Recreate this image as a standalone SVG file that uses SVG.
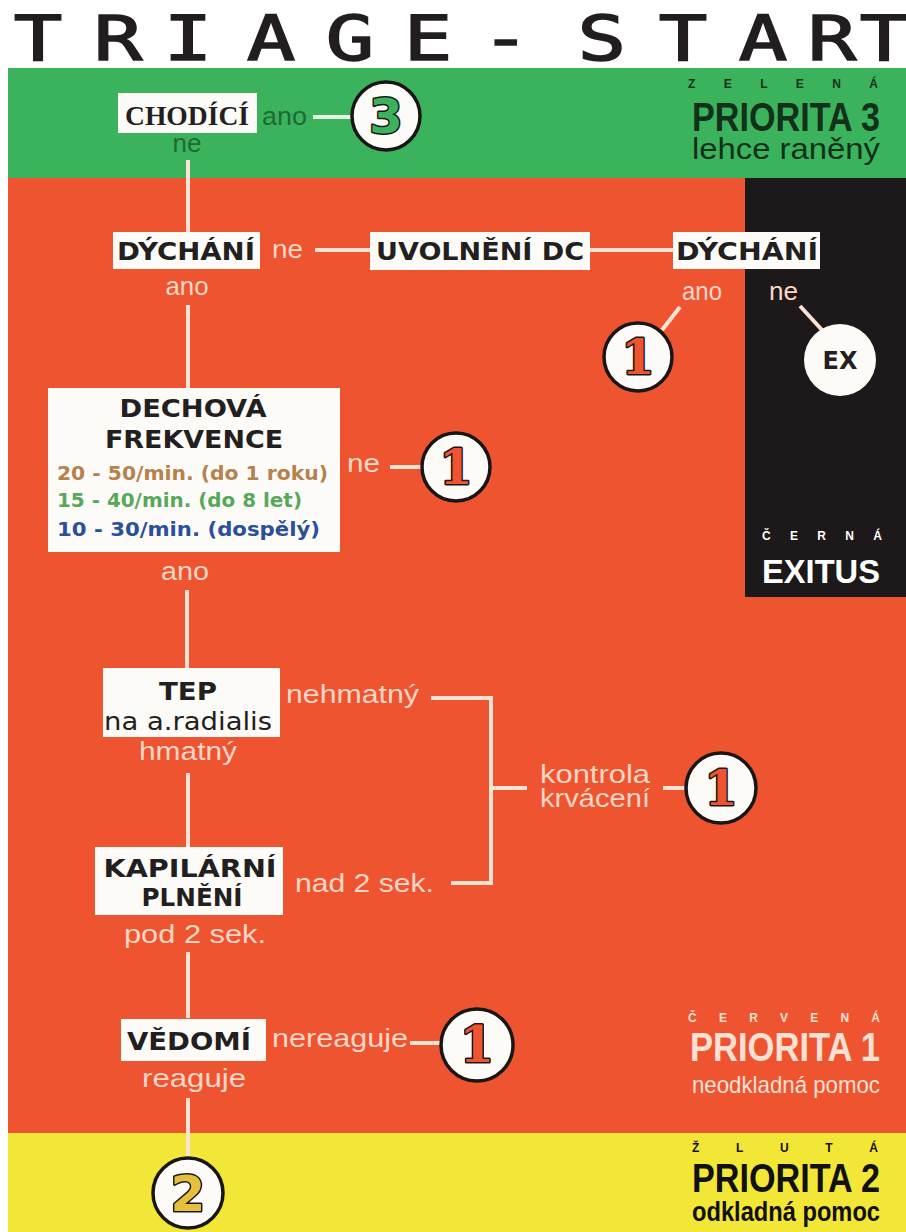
<svg xmlns="http://www.w3.org/2000/svg" width="906" height="1232" viewBox="0 0 906 1232">
<defs>
<style>
.box{fill:#fdfbf8}
.nt{font-family:"DejaVu Sans","Liberation Sans",sans-serif;font-weight:bold;fill:#231f20;text-anchor:middle}
.ln{stroke:#fde2d4;stroke-width:4;fill:none}
.lbl{font-family:"Liberation Sans Narrow","Liberation Sans",Arial,sans-serif;font-size:26px;fill:#fcd6c6}
.lblg{font-family:"Liberation Sans Narrow","Liberation Sans",Arial,sans-serif;font-size:26px;fill:#1d6a35}
.circ{fill:#fdfbf8;stroke:#1a1616;stroke-width:3.5}
.num{font-weight:bold;text-anchor:middle;stroke:#1a1616;stroke-width:3;paint-order:stroke;stroke-linejoin:round}
.leg{font-family:"Liberation Sans",Arial,sans-serif;font-weight:bold}
.sp{font-family:"Liberation Sans",Arial,sans-serif;font-weight:900;font-size:12px}
</style>
</defs>
<rect x="0" y="0" width="906" height="1232" fill="#ffffff"/>
<!-- title -->
<text transform="scale(1.3,1)" x="29.2 90.8 144.6 208.5 269.2 329.2 389 463 525.4 586.9 640 680" y="60" font-family="DejaVu Sans Mono, Liberation Mono, monospace" font-size="62" fill="#221e1f" stroke="#221e1f" stroke-width="1.6" text-anchor="middle">TRIAGE-START</text>
<!-- bands -->
<rect x="8" y="68" width="898" height="110" fill="#3bb35d"/>
<rect x="8" y="178" width="898" height="955" fill="#ef5431"/>
<rect x="745" y="178" width="161" height="419" fill="#1d1819"/>
<rect x="8" y="1133" width="898" height="99" fill="#f2e636"/>
<!-- legend -->
<g id="legend">
<text class="sp" x="688" y="88" textLength="190" lengthAdjust="spacing" fill="#13301b">ZELENÁ</text>
<text class="leg" x="692" y="131" font-size="40" textLength="188" lengthAdjust="spacingAndGlyphs" fill="#13301b">PRIORITA 3</text>
<text x="692" y="159" font-family="Liberation Sans, Arial, sans-serif" font-size="29" textLength="188" lengthAdjust="spacingAndGlyphs" fill="#13301b">lehce raněný</text>
<text class="sp" x="762" y="540" textLength="120" lengthAdjust="spacing" fill="#ffffff">ČERNÁ</text>
<text class="leg" x="762" y="583" font-size="34" textLength="118" lengthAdjust="spacingAndGlyphs" fill="#ffffff">EXITUS</text>
<text class="sp" x="688" y="1022" textLength="192" lengthAdjust="spacing" fill="#fbe0d4">ČERVENÁ</text>
<text class="leg" x="690" y="1061" font-size="40" textLength="190" lengthAdjust="spacingAndGlyphs" fill="#fbe0d4">PRIORITA 1</text>
<text x="692" y="1093" font-family="Liberation Sans, Arial, sans-serif" font-size="24" textLength="188" lengthAdjust="spacingAndGlyphs" fill="#fbe0d4">neodkladná pomoc</text>
<text class="sp" x="692" y="1152" textLength="186" lengthAdjust="spacing" fill="#111111">ŽLUTÁ</text>
<text class="leg" x="692" y="1192" font-size="40" textLength="188" lengthAdjust="spacingAndGlyphs" fill="#111111">PRIORITA 2</text>
<text class="leg" x="692" y="1221" font-size="28" textLength="188" lengthAdjust="spacingAndGlyphs" fill="#111111">odkladná pomoc</text>
</g>
<!-- connectors -->
<g id="connectors">
<line x1="313" y1="117" x2="352" y2="117" stroke="#e4f4e4" stroke-width="4"/>
<line class="ln" x1="188" y1="160" x2="188" y2="232"/>
<line class="ln" x1="315" y1="250" x2="370" y2="250"/>
<line class="ln" x1="590" y1="250" x2="673" y2="250"/>
<line class="ln" x1="680" y1="307" x2="662" y2="330"/>
<line class="ln" x1="800" y1="306" x2="822" y2="330"/>
<line class="ln" x1="188" y1="305" x2="188" y2="388"/>
<line class="ln" x1="390" y1="467" x2="422" y2="467"/>
<line class="ln" x1="187" y1="590" x2="187" y2="668"/>
<polyline class="ln" points="431,698 491,698 491,883 451,883"/>
<line class="ln" x1="491" y1="788" x2="527" y2="788"/>
<line class="ln" x1="663" y1="788" x2="686" y2="788"/>
<line class="ln" x1="188" y1="773" x2="188" y2="847"/>
<line class="ln" x1="188" y1="952" x2="188" y2="1018"/>
<line class="ln" x1="410" y1="1043" x2="441" y2="1043"/>
<line class="ln" x1="188" y1="1098" x2="188" y2="1158"/>
<text class="lblg" x="262" y="125" textLength="45" lengthAdjust="spacingAndGlyphs">ano</text>
<text class="lblg" x="187" y="152" text-anchor="middle">ne</text>
<text class="lbl" x="272" y="258" textLength="31" lengthAdjust="spacingAndGlyphs">ne</text>
<text class="lbl" x="187" y="295" text-anchor="middle" textLength="43" lengthAdjust="spacingAndGlyphs">ano</text>
<text class="lbl" x="682" y="300" textLength="40" lengthAdjust="spacingAndGlyphs">ano</text>
<text class="lbl" x="769" y="300" textLength="29" lengthAdjust="spacingAndGlyphs">ne</text>
<text class="lbl" x="347" y="472" textLength="33" lengthAdjust="spacingAndGlyphs">ne</text>
<text class="lbl" x="185" y="580" text-anchor="middle" textLength="48" lengthAdjust="spacingAndGlyphs">ano</text>
<text class="lbl" x="286" y="703" textLength="133" lengthAdjust="spacingAndGlyphs">nehmatný</text>
<text class="lbl" x="188" y="760" text-anchor="middle" textLength="98" lengthAdjust="spacingAndGlyphs">hmatný</text>
<text class="lbl" x="540" y="783" textLength="110" lengthAdjust="spacingAndGlyphs">kontrola</text>
<text class="lbl" x="540" y="807" textLength="110" lengthAdjust="spacingAndGlyphs">krvácení</text>
<text class="lbl" x="295" y="892" textLength="139" lengthAdjust="spacingAndGlyphs">nad 2 sek.</text>
<text class="lbl" x="195" y="943" text-anchor="middle" textLength="142" lengthAdjust="spacingAndGlyphs">pod 2 sek.</text>
<text class="lbl" x="272" y="1047" textLength="136" lengthAdjust="spacingAndGlyphs">nereaguje</text>
<text class="lbl" x="194" y="1087" text-anchor="middle" textLength="104" lengthAdjust="spacingAndGlyphs">reaguje</text>
</g>
<!-- nodes -->
<g id="chodici">
<rect class="box" x="118" y="93" width="139" height="40"/>
<text x="187" y="125" font-family="Liberation Serif, DejaVu Serif, serif" font-weight="bold" font-size="27" fill="#231f20" text-anchor="middle" textLength="124" lengthAdjust="spacingAndGlyphs">CHODÍCÍ</text>
</g>
<g id="p3a">
<circle class="circ" cx="386" cy="116" r="34"/>
<text class="num" x="386" y="133" font-family="DejaVu Sans, sans-serif" font-size="48" fill="#3bb35d">3</text>
</g>
<g id="dychani1">
<rect class="box" x="113" y="232" width="147" height="37"/>
<text class="nt" x="186" y="260" font-size="25" textLength="138" lengthAdjust="spacingAndGlyphs">DÝCHÁNÍ</text>
</g>
<g id="uvolneni">
<rect class="box" x="370" y="232" width="220" height="38"/>
<text class="nt" x="480" y="260" font-size="25" textLength="208" lengthAdjust="spacingAndGlyphs">UVOLNĚNÍ DC</text>
</g>
<g id="dychani2">
<rect class="box" x="673" y="232" width="147" height="37"/>
<text class="nt" x="747" y="260" font-size="25" textLength="142" lengthAdjust="spacingAndGlyphs">DÝCHÁNÍ</text>
</g>
<g id="p1a">
<circle class="circ" cx="638" cy="357" r="34"/>
<text class="num" x="638" y="374" font-family="DejaVu Serif, serif" font-size="48" fill="#ef5431">1</text>
</g>
<g id="ex">
<circle cx="840" cy="360" r="36" fill="#fdfbf8"/>
<text class="nt" x="840" y="369" font-size="24">EX</text>
</g>
<g id="dechova">
<rect class="box" x="48" y="388" width="292" height="164"/>
<text class="nt" x="193" y="417" font-size="25" textLength="147" lengthAdjust="spacingAndGlyphs">DECHOVÁ</text>
<text class="nt" x="194" y="448" font-size="25" textLength="178" lengthAdjust="spacingAndGlyphs">FREKVENCE</text>
<text x="57" y="480" font-family="DejaVu Sans, sans-serif" font-weight="bold" font-size="20" fill="#b5824e" textLength="271" lengthAdjust="spacingAndGlyphs">20 - 50/min. (do 1 roku)</text>
<text x="57" y="507" font-family="DejaVu Sans, sans-serif" font-weight="bold" font-size="20" fill="#58a85a" textLength="245" lengthAdjust="spacingAndGlyphs">15 - 40/min. (do 8 let)</text>
<text x="57" y="536" font-family="DejaVu Sans, sans-serif" font-weight="bold" font-size="20" fill="#2b4f9a" textLength="263" lengthAdjust="spacingAndGlyphs">10 - 30/min. (dospělý)</text>
</g>
<g id="p1b">
<circle class="circ" cx="456" cy="467" r="34"/>
<text class="num" x="456" y="484" font-family="DejaVu Serif, serif" font-size="48" fill="#ef5431">1</text>
</g>
<g id="tep">
<rect class="box" x="103" y="668" width="177" height="69"/>
<text class="nt" x="188" y="700" font-size="25" textLength="58" lengthAdjust="spacingAndGlyphs">TEP</text>
<text x="188" y="730" font-family="DejaVu Sans, sans-serif" font-size="25" fill="#231f20" text-anchor="middle" textLength="168" lengthAdjust="spacingAndGlyphs">na a.radialis</text>
</g>
<g id="p1c">
<circle class="circ" cx="721" cy="788" r="35"/>
<text class="num" x="721" y="805" font-family="DejaVu Serif, serif" font-size="48" fill="#ef5431">1</text>
</g>
<g id="kapilarni">
<rect class="box" x="95" y="847" width="188" height="68"/>
<text class="nt" x="190" y="877" font-size="25" textLength="173" lengthAdjust="spacingAndGlyphs">KAPILÁRNÍ</text>
<text class="nt" x="192" y="906" font-size="25" textLength="101" lengthAdjust="spacingAndGlyphs">PLNĚNÍ</text>
</g>
<g id="vedomi">
<rect class="box" x="121" y="1019" width="145" height="42"/>
<text class="nt" x="189" y="1050" font-size="25" textLength="124" lengthAdjust="spacingAndGlyphs">VĚDOMÍ</text>
</g>
<g id="p1d">
<circle class="circ" cx="477" cy="1045" r="36"/>
<text class="num" x="477" y="1062" font-family="DejaVu Serif, serif" font-size="50" fill="#ef5431">1</text>
</g>
<g id="p2">
<circle class="circ" cx="188" cy="1193" r="35"/>
<text class="num" x="188" y="1211" font-family="DejaVu Sans, sans-serif" font-size="50" fill="#e6c03a">2</text>
</g>
</svg>
